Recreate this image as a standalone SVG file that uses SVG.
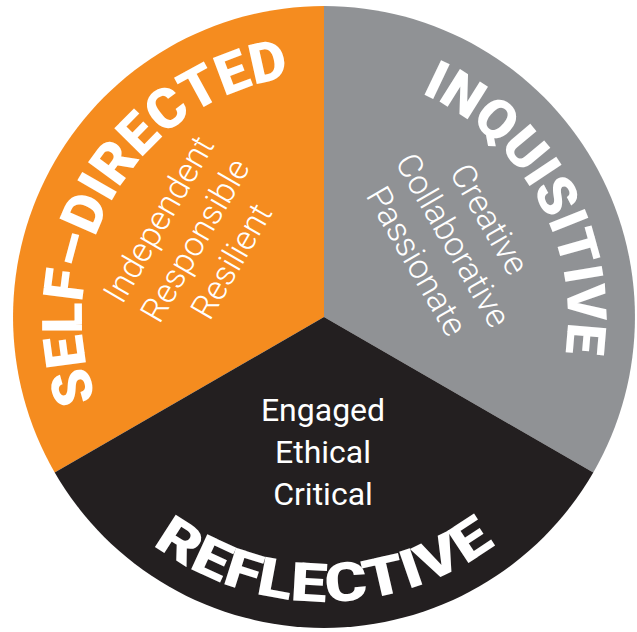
<svg xmlns="http://www.w3.org/2000/svg" width="637" height="632" viewBox="0 0 637 632">
<style>
.title{font-family:Roboto,"Liberation Sans","DejaVu Sans",sans-serif;font-weight:900;font-size:54px;fill:#ffffff;}
.sub{font-family:Roboto,"Liberation Sans",sans-serif;font-weight:300;font-size:34px;fill:#ffffff;text-anchor:middle;}
.sub2{font-family:Roboto,"Liberation Sans",sans-serif;font-weight:400;font-size:32px;fill:#ffffff;text-anchor:middle;}
</style>
<defs>
<path id="arcSelf" d="M181.8,512.8 A242,242 0 0 1 430.1,99.5"/>
<path id="arcInq" d="M224.8,94.1 A244,244 0 0 1 460.4,519.3"/>
<path id="arcRef" d="M40.1,341.8 A285,285 0 0 0 607.9,341.8"/>
</defs>
<rect width="637" height="632" fill="#ffffff"/>
<g id="self-directed">
<path d="M324,317 L54.7,472.5 A311,311 0 0 1 324,6 Z" fill="#F58C1F"/>
<text class="title" style="font-size:56px"><textPath href="#arcSelf" startOffset="50%" text-anchor="middle" textLength="430" lengthAdjust="spacingAndGlyphs">SELF–DIRECTED</textPath></text>
<g transform="translate(205,246) rotate(-60)">
<text class="sub" x="0" y="-42">Independent</text>
<text class="sub" x="0" y="0">Responsible</text>
<text class="sub" x="0" y="42">Resilient</text>
</g>
</g>
<g id="inquisitive">
<path d="M324,317 L324,6 A311,311 0 0 1 593.3,472.5 Z" fill="#909295"/>
<text class="title"><textPath href="#arcInq" startOffset="50%" text-anchor="middle" textLength="319" lengthAdjust="spacingAndGlyphs">INQUISITIVE</textPath></text>
<g transform="translate(443,246) rotate(60)">
<text class="sub" x="0" y="-42">Creative</text>
<text class="sub" x="0" y="0">Collaborative</text>
<text class="sub" x="0" y="42">Passionate</text>
</g>
</g>
<g id="reflective">
<path d="M324,317 L593.3,472.5 A311,311 0 0 1 54.7,472.5 Z" fill="#231F20"/>
<text class="title"><textPath href="#arcRef" startOffset="50%" text-anchor="middle" textLength="368" lengthAdjust="spacingAndGlyphs">REFLECTIVE</textPath></text>
<text class="sub2" x="323" y="421">Engaged</text>
<text class="sub2" x="323" y="463">Ethical</text>
<text class="sub2" x="323" y="505">Critical</text>
</g>
</svg>
